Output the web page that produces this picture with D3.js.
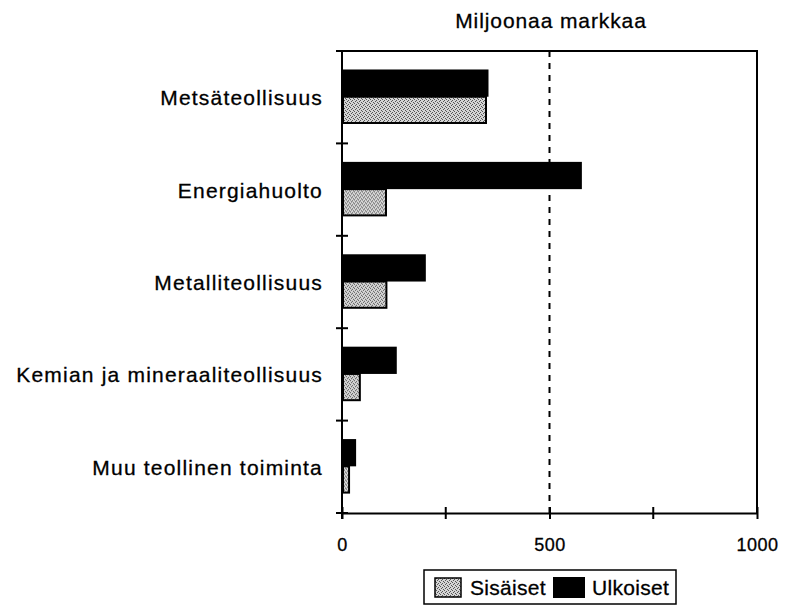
<!DOCTYPE html>
<html lang="fi">
<head>
    <meta charset="UTF-8">
    <title>Miljoonaa markkaa</title>
    <script src="https://cdn.jsdelivr.net/npm/d3@7/dist/d3.min.js"></script>
    <style>
        body { margin: 0; background: #fff; }
        svg { font-family: Arial, "Liberation Sans", sans-serif; }
        .axis path, .axis line { stroke: #000; stroke-width: 2px; }
        .axis text { font-size: 18px; fill: #000; letter-spacing: 0.5px; stroke: #000; stroke-width: 0.3px; }
        .lbl { font-size: 21px; letter-spacing: 1.2px; fill: #000; stroke: #000; stroke-width: 0.3px; }
    </style>
</head>
<body>
    <svg width=790 height=610></svg>
    <script>
        var categories = ['Metsäteollisuus', 'Energiahuolto', 'Metalliteollisuus', 'Kemian ja mineraaliteollisuus', 'Muu teollinen toiminta'],
            series = ['Ulkoiset', 'Sisäiset'],
            ulkoiset = [353, 578, 202, 132, 34],
            sisaiset = [347, 106, 107, 43, 17],
            xTicks = [0, 500, 1000],
            xMinor = [250, 750];

        var svg = d3.select('svg'),
            margin = { top: 51, right: 33, bottom: 97, left: 342 },
            chartWidth = 790 - margin.left - margin.right,
            chartHeight = 610 - margin.top - margin.bottom;

        var xScale = d3.scaleLinear().domain([0, 1000]).range([0, chartWidth]),
            yScale = d3.scaleBand().domain(categories).range([0, chartHeight]),
            bw = yScale.bandwidth(),
            ySub = d3.scaleBand().domain(series).range([bw * 0.2, bw * 0.79]);

        var defs = svg.append('defs');
        var pat = defs.append('pattern')
            .attr('id', 'stipple')
            .attr('patternUnits', 'userSpaceOnUse')
            .attr('width', 4).attr('height', 4);
        pat.append('rect').attr('width', 4).attr('height', 4).attr('fill', '#d4d4d4');
        [[0, 0], [2, 1], [1, 2], [3, 3]].forEach(function(p) {
            pat.append('rect').attr('x', p[0]).attr('y', p[1]).attr('width', 1).attr('height', 1).attr('fill', '#555');
        });

        var chartG = svg.append('g')
            .attr('transform', 'translate(' + [margin.left, margin.top] + ')');

        // frame top and right
        chartG.append('path')
            .attr('d', 'M0,0H' + chartWidth + 'V' + chartHeight)
            .attr('fill', 'none').attr('stroke', '#000').attr('stroke-width', 2);

        // dashed reference line at 500
        chartG.append('line')
            .attr('x1', xScale(500)).attr('x2', xScale(500))
            .attr('y1', 0).attr('y2', chartHeight)
            .attr('stroke', '#000').attr('stroke-width', 2)
            .attr('stroke-dasharray', '6,6');

        var rows = chartG.selectAll('.row')
            .data(categories)
            .enter().append('g')
            .attr('transform', function(d) { return 'translate(0,' + yScale(d) + ')'; });

        rows.append('rect')
            .attr('x', 0)
            .attr('y', ySub('Ulkoiset'))
            .attr('height', ySub.bandwidth())
            .attr('width', function(d, i) { return xScale(ulkoiset[i]); })
            .attr('fill', '#000');

        rows.append('rect')
            .attr('x', 1)
            .attr('y', ySub('Sisäiset'))
            .attr('height', ySub.bandwidth() - 1)
            .attr('width', function(d, i) { return xScale(sisaiset[i]) - 1; })
            .attr('fill', 'url(#stipple)')
            .attr('stroke', '#000').attr('stroke-width', 2);

        // y axis with ticks at band boundaries
        var yAxisG = chartG.append('g').attr('class', 'axis');
        yAxisG.append('line').attr('x1', 0).attr('x2', 0).attr('y1', 0).attr('y2', chartHeight + 6);
        yAxisG.selectAll('.yt')
            .data(categories.map(function(d) { return yScale(d); }).concat([chartHeight]))
            .enter().append('line')
            .attr('x1', -6).attr('x2', 6)
            .attr('y1', function(d) { return d; }).attr('y2', function(d) { return d; });

        chartG.selectAll('.ylabel')
            .data(categories)
            .enter().append('text')
            .attr('class', 'lbl')
            .attr('x', -19)
            .attr('y', function(d) { return yScale(d) + bw / 2 + 8; })
            .attr('text-anchor', 'end')
            .text(function(d) { return d; });

        // x axis
        var xAxis = d3.axisBottom(xScale).tickValues(xTicks).tickFormat(d3.format('d'))
            .tickSize(6).tickPadding(19).tickSizeOuter(0);
        var xAxisG = chartG.append('g')
            .attr('class', 'axis')
            .attr('transform', 'translate(0,' + chartHeight + ')')
            .call(xAxis);
        xAxisG.selectAll('.tick line').attr('y1', -6);
        xAxisG.selectAll('.minor')
            .data(xMinor)
            .enter().append('line')
            .attr('x1', function(d) { return xScale(d); }).attr('x2', function(d) { return xScale(d); })
            .attr('y1', -6).attr('y2', 6);

        // title
        svg.append('text')
            .attr('class', 'lbl')
            .attr('x', 551).attr('y', 28)
            .attr('text-anchor', 'middle')
            .style('letter-spacing', '0.9px')
            .text('Miljoonaa markkaa');

        // legend
        var leg = svg.append('g').attr('transform', 'translate(424,570)');
        leg.append('rect').attr('width', 252).attr('height', 34)
            .attr('fill', '#fff').attr('stroke', '#000').attr('stroke-width', 1.5);
        leg.append('rect').attr('x', 11).attr('y', 8).attr('width', 26).attr('height', 19)
            .attr('fill', 'url(#stipple)').attr('stroke', '#000').attr('stroke-width', 1.5);
        leg.append('text').attr('class', 'lbl').attr('x', 46).attr('y', 25).style('letter-spacing', '0.3px').text('Sisäiset');
        leg.append('rect').attr('x', 129).attr('y', 7).attr('width', 32).attr('height', 21).attr('fill', '#000');
        leg.append('text').attr('class', 'lbl').attr('x', 168).attr('y', 25).style('letter-spacing', '0.3px').text('Ulkoiset');
    </script>
</body>
</html>
